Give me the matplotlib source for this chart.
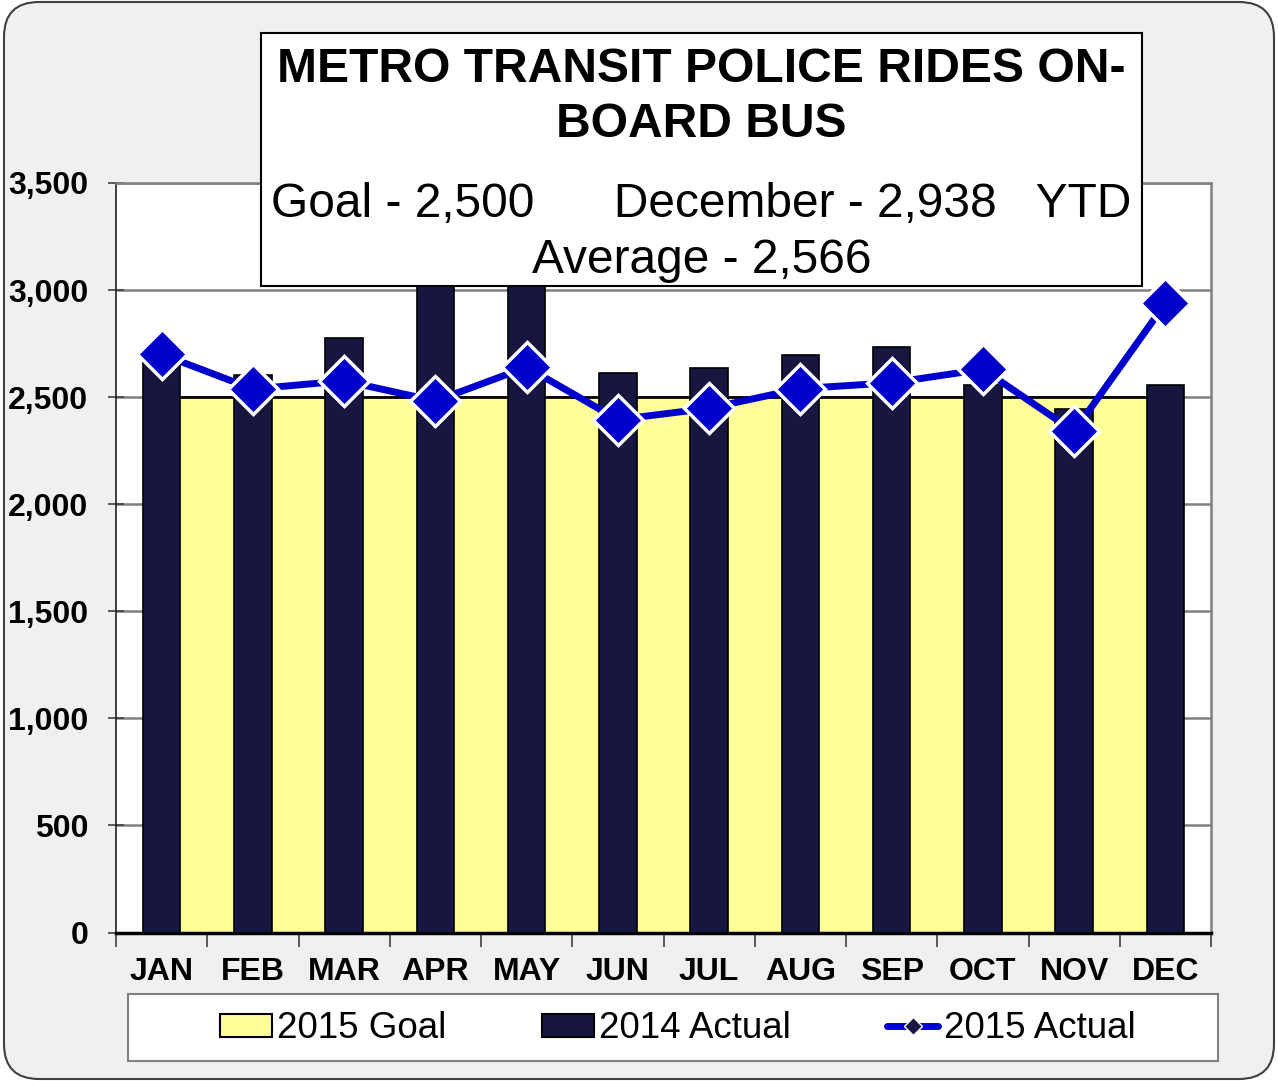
import matplotlib.pyplot as plt
from matplotlib.patches import FancyBboxPatch, Rectangle, Patch
from matplotlib.lines import Line2D
from matplotlib.ticker import FuncFormatter
import numpy as np

plt.rcParams['font.family'] = ['Liberation Sans', 'DejaVu Sans']

# Chart data
months = ['JAN', 'FEB', 'MAR', 'APR', 'MAY', 'JUN',
          'JUL', 'AUG', 'SEP', 'OCT', 'NOV', 'DEC']
goal_2015 = [2500] * 12
actual_2014 = [2680, 2604, 2777, 3150, 3100, 2611, 2638, 2695, 2733, 2555, 2443, 2555]
actual_2015 = [2700, 2538, 2576, 2482, 2640, 2395, 2448, 2540, 2567, 2630, 2340, 2938]
y_ticks = [0, 500, 1000, 1500, 2000, 2500, 3000, 3500]

title = 'METRO TRANSIT POLICE RIDES ON-\nBOARD BUS'
sub1 = 'Goal - 2,500      December - 2,938   YTD'
sub2 = 'Average - 2,566'

# Colours
YELLOW = '#FFFF99'
NAVY = '#161640'
BLUE = '#0000CC'

W, H = 1278, 1081
fig = plt.figure(figsize=(W / 100, H / 100), dpi=100, facecolor='white')

# rounded grey background of the whole chart
bg = FancyBboxPatch((0.04, 0.02), 12.70, 10.77, boxstyle='round,pad=0,rounding_size=0.35',
                    transform=fig.dpi_scale_trans, facecolor='#F0F0F0',
                    edgecolor='#404040', linewidth=1.5, zorder=-5)
fig.patches.append(bg)

# plot area in pixels: x 116..1211, y 183..932.5
ax = fig.add_axes([116 / W, 1 - 932.5 / H, (1211 - 116) / W, (932.5 - 183) / H])
ax.set_facecolor('white')

x = np.arange(len(months))

# goal area runs from the JAN bar to the DEC bar
ax.fill_between(x, 0, goal_2015, facecolor=YELLOW, edgecolor='black', linewidth=2, zorder=2)
ax.bar(x, actual_2014, width=0.41, color=NAVY, edgecolor='black', linewidth=1.2, zorder=3)
ax.plot(x, actual_2015, color=BLUE, linewidth=5, marker='D', markersize=25,
        markerfacecolor=BLUE, markeredgecolor='white', markeredgewidth=2.5, zorder=4,
        clip_on=False)

ax.set_xlim(-0.5, 11.5)
ax.set_ylim(0, 3500)

# y axis
ax.set_yticks(y_ticks)
ax.yaxis.set_major_formatter(FuncFormatter(lambda v, p: f'{int(v):,}'))
ax.tick_params(axis='y', direction='inout', length=12, width=1.2, color='#404040',
               pad=14, labelsize=23)
for lab in ax.get_yticklabels():
    lab.set_fontweight('bold')
ax.yaxis.grid(True, color='#808080', linewidth=1.8, zorder=0)
ax.set_axisbelow(True)

# x axis: labels at month centres, tick marks between months
ax.set_xticks(x)
ax.set_xticklabels(months, fontsize=23, fontweight='bold')
ax.set_xticks(np.arange(-0.5, 12, 1), minor=True)
ax.tick_params(axis='x', which='major', length=0, pad=18)
ax.tick_params(axis='x', which='minor', direction='out', length=10, width=1.2, color='#404040')

for side in ['top', 'right']:
    ax.spines[side].set_color('#808080')
    ax.spines[side].set_linewidth(1.8)
ax.spines['left'].set_color('#202020')
ax.spines['left'].set_linewidth(1.2)
ax.spines['bottom'].set_color('black')
ax.spines['bottom'].set_linewidth(2.5)

# title box overlapping the plot area
box = Rectangle((261 / W, 1 - 286 / H), (1142 - 261) / W, (286 - 33) / H,
                transform=fig.transFigure, facecolor='white', edgecolor='black',
                linewidth=1.5, zorder=5)
fig.patches.append(box)
cx = 701.5 / W
fig.text(cx, 1 - 82 / H, title.split('\n')[0], ha='center', va='baseline',
         fontsize=34.6, fontweight='bold', zorder=6)
fig.text(cx, 1 - 137 / H, title.split('\n')[1], ha='center', va='baseline',
         fontsize=34.6, fontweight='bold', zorder=6)
fig.text(cx, 1 - 217 / H, sub1, ha='center', va='baseline', fontsize=34.5, zorder=6)
fig.text(cx, 1 - 273 / H, sub2, ha='center', va='baseline', fontsize=34.5, zorder=6)

# legend frame and entries
leg_box = Rectangle((128 / W, 1 - 1061 / H), (1218 - 128) / W, (1061 - 994) / H,
                    transform=fig.transFigure, facecolor='white', edgecolor='#808080',
                    linewidth=1.5, zorder=5)
fig.patches.append(leg_box)
handles = [Patch(facecolor=YELLOW, edgecolor='black', linewidth=1.5),
           Patch(facecolor=NAVY, edgecolor='black', linewidth=1.5),
           Line2D([], [], color=BLUE, linewidth=5, marker='D', markersize=9,
                  markerfacecolor=NAVY, markeredgecolor='white', markeredgewidth=1,
                  solid_capstyle='round')]
leg = fig.legend(handles, ['2015 Goal', '2014 Actual', '2015 Actual'],
                 loc='center', bbox_to_anchor=(678 / W, 1 - 1029 / H), ncol=3,
                 frameon=False, fontsize=26.5, columnspacing=2.6, handlelength=1.4,
                 handletextpad=0.15, handleheight=0.6)
leg.set_zorder(6)

fig.savefig('out.png', dpi=100, facecolor=fig.get_facecolor())
